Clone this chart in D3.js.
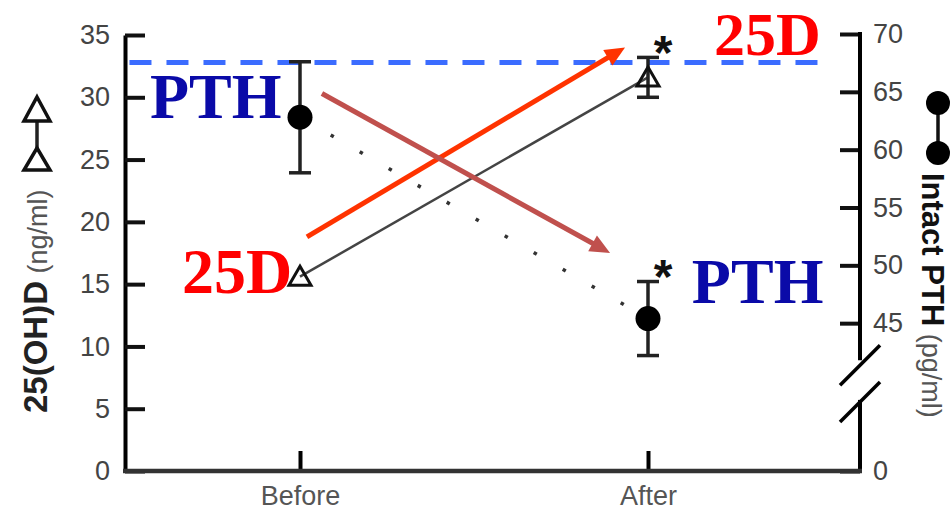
<!DOCTYPE html>
<html><head><meta charset="utf-8">
<script src="https://cdn.jsdelivr.net/npm/d3@7"></script>
<style>body{margin:0;background:#fff} svg{display:block}</style>
</head><body><svg id="c" width="950" height="512"></svg>
<script>
// ---- data ----
const categories = ["Before", "After"];
const vitD = [15.6, 31.6];          // 25(OH)D ng/ml (left axis)
const vitDErr = [0, 1.6];
const pth = [62.8, 45.4];           // Intact PTH pg/ml (right axis)
const pthErr = [4.8, 3.2];
const leftTicks = [0, 5, 10, 15, 20, 25, 30, 35];
const rightTicks = [0, 45, 50, 55, 60, 65, 70];
const refLineValue = 32.8;          // dashed reference (left axis units)
const refLineSpan = [-0.49, 1.50];  // in category-index units
const pthBreak = [31.6, 41.8];      // axis break on right axis
// annotations in (category index, left-axis value)
const arrows = [
  {from: [0.02, 18.8], to: [0.934, 34.0], color: "#ff3300"},
  {from: [0.063, 30.3], to: [0.891, 17.5], color: "#c0504d"}
];
const labels = [
  {text: "PTH", at: [-0.431, 28.34], color: "#0a0aa8", size: 64},
  {text: "25D", at: [-0.339, 14.29], color: "#ff0000", size: 64},
  {text: "25D", at: [1.190, 33.40], color: "#ff0000", size: 62},
  {text: "PTH", at: [1.126, 13.49], color: "#0a0aa8", size: 64}
];

// ---- layout ----
const L = 125, R = 860, T = 35, B = 471;
const svg = d3.select("#c");
const sans = "'Liberation Sans', Arial, sans-serif";
const serif = "'Liberation Serif', 'Times New Roman', serif";

const x = d3.scalePoint().domain(categories).range([300, 648]);
const xi = d3.scaleLinear().domain([0, 1]).range([x(categories[0]), x(categories[1])]);
const yL = d3.scaleLinear().domain([0, 35]).range([B, T]);
const yR = d3.scaleLinear().domain([0, 40, 70]).range([B, 381, 34]);

// reference dashed line
svg.append("line")
  .attr("x1", xi(refLineSpan[0])).attr("x2", xi(refLineSpan[1]))
  .attr("y1", yL(refLineValue)).attr("y2", yL(refLineValue))
  .attr("stroke", "#3b6cff").attr("stroke-width", 5)
  .attr("stroke-dasharray", "22,15");

// left axis
const gL = svg.append("g").attr("transform", `translate(${L},0)`)
  .call(d3.axisLeft(yL).tickValues(leftTicks).tickSize(-20).tickSizeOuter(0).tickPadding(15));
gL.select(".domain").attr("stroke", "#000").attr("stroke-width", 4);
gL.selectAll(".tick line").attr("stroke", "#111").attr("stroke-width", 4);
gL.selectAll(".tick text").attr("font-family", sans).attr("font-size", 27).attr("fill", "#444");

// right axis
const gR = svg.append("g").attr("transform", `translate(${R},0)`)
  .call(d3.axisRight(yR).tickValues(rightTicks).tickSize(-20).tickSizeOuter(0).tickPadding(13));
gR.select(".domain").remove();
gR.selectAll(".tick line").attr("stroke", "#111").attr("stroke-width", 4);
gR.selectAll(".tick text").attr("font-family", sans).attr("font-size", 27).attr("fill", "#444");
gR.append("line").attr("x1", 0).attr("x2", 0).attr("y1", yR(70) - 2).attr("y2", yR(pthBreak[1]))
  .attr("stroke", "#000").attr("stroke-width", 4);
gR.append("line").attr("x1", 0).attr("x2", 0).attr("y1", yR(pthBreak[0])).attr("y2", B + 2)
  .attr("stroke", "#000").attr("stroke-width", 4);
[yR(pthBreak[1]) + 5, yR(pthBreak[0]) + 2].forEach(cy => {
  gR.append("line").attr("x1", -20).attr("x2", 20).attr("y1", cy + 20).attr("y2", cy - 20)
    .attr("stroke", "#000").attr("stroke-width", 3.5);
});

// bottom axis
const gB = svg.append("g").attr("transform", `translate(0,${B})`)
  .call(d3.axisBottom(x).tickSize(-20).tickSizeOuter(0).tickPadding(15));
gB.select(".domain").remove();
gB.selectAll(".tick line").attr("stroke", "#000").attr("stroke-width", 4);
gB.selectAll(".tick text").attr("font-family", sans).attr("font-size", 27).attr("fill", "#555");
svg.append("line").attr("x1", L - 2).attr("x2", R + 2).attr("y1", B).attr("y2", B)
  .attr("stroke", "#333").attr("stroke-width", 4.5);

// series lines
svg.append("path")
  .attr("d", d3.line().x((d, i) => x(categories[i])).y(d => yL(d))(vitD))
  .attr("fill", "none").attr("stroke", "#444").attr("stroke-width", 2.5);
svg.append("path")
  .attr("d", d3.line().x((d, i) => x(categories[i])).y(d => yR(d))(pth))
  .attr("fill", "none").attr("stroke", "#333").attr("stroke-width", 3.5)
  .attr("stroke-dasharray", "3.5,30").attr("stroke-dashoffset", -2);

// error bars
function errBar(cx, yTop, yBot) {
  svg.append("line").attr("x1", cx).attr("x2", cx).attr("y1", yTop).attr("y2", yBot)
    .attr("stroke", "#222").attr("stroke-width", 3.5);
  [yTop, yBot].forEach(yy => svg.append("line").attr("x1", cx - 11).attr("x2", cx + 11)
    .attr("y1", yy).attr("y2", yy).attr("stroke", "#222").attr("stroke-width", 3.5));
}
pth.forEach((v, i) => { if (pthErr[i] > 0) errBar(x(categories[i]), yR(v + pthErr[i]), yR(v - pthErr[i])); });
vitD.forEach((v, i) => { if (vitDErr[i] > 0) errBar(x(categories[i]), yL(v + vitDErr[i]), yL(v - vitDErr[i])); });

// markers
const tri = (cx, cy, hw, h) => `M${cx},${cy - h * 0.55}L${cx + hw},${cy + h * 0.45}L${cx - hw},${cy + h * 0.45}Z`;
vitD.forEach((v, i) => {
  svg.append("path").attr("d", tri(x(categories[i]), yL(v), 11, 19))
    .attr("fill", "none").attr("stroke", "#111").attr("stroke-width", 3);
});
pth.forEach((v, i) => {
  svg.append("circle").attr("cx", x(categories[i])).attr("cy", yR(v)).attr("r", 12.5).attr("fill", "#000");
});

// significance stars
const starFs = 48;
[[vitD, vitDErr, yL], [pth, pthErr, yR]].forEach(([vals, errs, sc]) => {
  const cy = sc(vals[1] + errs[1]) - 16;
  svg.append("text").attr("x", x(categories[1]) + 15).attr("y", cy + 0.58 * starFs)
    .attr("text-anchor", "middle").attr("font-family", sans).attr("font-weight", "bold")
    .attr("font-size", starFs).attr("fill", "#111").text("*");
});

// arrows
arrows.forEach(a => {
  const x1 = xi(a.from[0]), y1 = yL(a.from[1]), x2 = xi(a.to[0]), y2 = yL(a.to[1]);
  const ang = Math.atan2(y2 - y1, x2 - x1), hl = 20, hw = 9;
  const bx = x2 - hl * Math.cos(ang), by = y2 - hl * Math.sin(ang);
  svg.append("line").attr("x1", x1).attr("y1", y1).attr("x2", bx + 2 * Math.cos(ang)).attr("y2", by + 2 * Math.sin(ang))
    .attr("stroke", a.color).attr("stroke-width", 5);
  const px = -Math.sin(ang), py = Math.cos(ang);
  svg.append("path").attr("d", `M${x2},${y2}L${bx + hw * px},${by + hw * py}L${bx - hw * px},${by - hw * py}Z`)
    .attr("fill", a.color);
});

// labels
labels.forEach(l => {
  svg.append("text").attr("x", xi(l.at[0])).attr("y", yL(l.at[1]))
    .attr("font-family", serif).attr("font-weight", "bold").attr("font-size", l.size)
    .attr("fill", l.color).text(l.text);
});

// left axis title + legend symbol
const tL = svg.append("text").attr("transform", "translate(47,413) rotate(-90)")
  .attr("font-family", sans);
tL.append("tspan").attr("font-size", 33).attr("font-weight", "bold").attr("fill", "#222").text("25(OH)D");
tL.append("tspan").attr("font-size", 27).attr("fill", "#555").text(" (ng/ml)");
svg.append("line").attr("x1", 37).attr("x2", 37).attr("y1", 115).attr("y2", 150)
  .attr("stroke", "#222").attr("stroke-width", 3.5);
svg.append("path").attr("d", "M37,97L50,121L24,121Z").attr("fill", "#fff").attr("stroke", "#111").attr("stroke-width", 3.5);
svg.append("path").attr("d", "M37,148L50,170L24,170Z").attr("fill", "#fff").attr("stroke", "#111").attr("stroke-width", 3.5);

// right axis title + legend symbol
const tR = svg.append("text").attr("transform", "translate(922,173) rotate(90)")
  .attr("font-family", sans);
tR.append("tspan").attr("font-size", 31).attr("font-weight", "bold").attr("fill", "#111").text("Intact PTH");
tR.append("tspan").attr("font-size", 27).attr("fill", "#555").text(" (pg/ml)");
svg.append("line").attr("x1", 938).attr("x2", 938).attr("y1", 103).attr("y2", 153)
  .attr("stroke", "#111").attr("stroke-width", 3.5);
svg.append("circle").attr("cx", 938).attr("cy", 103).attr("r", 12).attr("fill", "#000");
svg.append("circle").attr("cx", 938).attr("cy", 153).attr("r", 12).attr("fill", "#000");
</script></body></html>
